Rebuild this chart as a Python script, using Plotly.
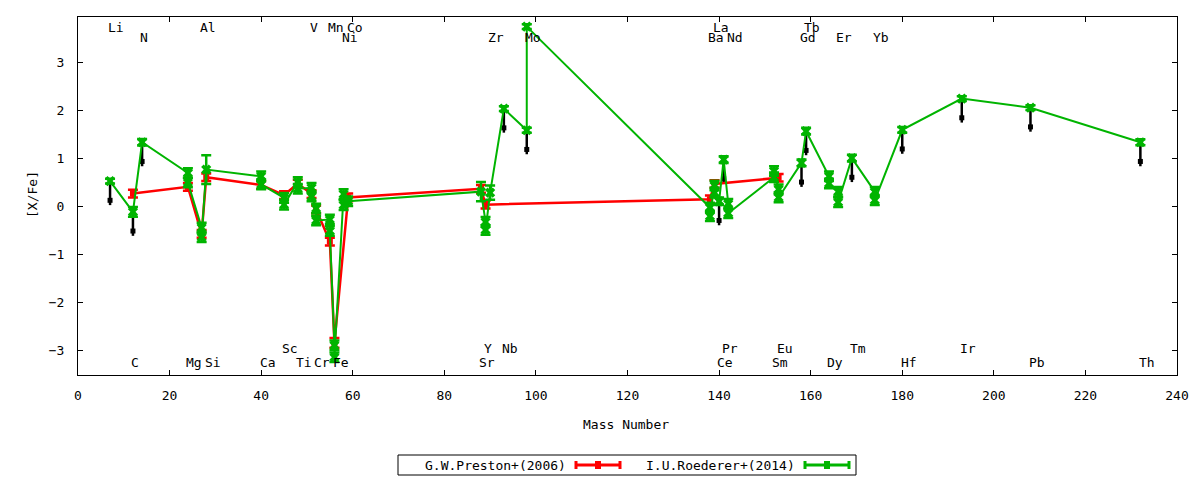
import plotly.graph_objects as go

# G.W.Preston+(2006)
preston_mass = [12, 24, 27, 28, 40, 45, 48, 51, 52, 55, 56, 59, 88, 89, 138, 139, 153]
preston_xfe = [0.26, 0.40, -0.58, 0.60, 0.44, 0.23, 0.47, 0.25, -0.07, -0.74, -2.85,
               0.18, 0.36, 0.03, 0.14, 0.46, 0.59]
preston_err = [0.08, 0.08, 0.08, 0.08, 0.08, 0.08, 0.08, 0.08, 0.08, 0.08, 0.10,
               0.08, 0.08, 0.08, 0.08, 0.08, 0.08]

# I.U.Roederer+(2014)
roederer_mass = [7, 12, 14, 24, 24, 27, 27, 28, 40, 40, 45, 45, 48, 48, 51, 51, 52, 52,
                 55, 55, 56, 56, 58, 58, 59, 88, 89, 89, 90, 93, 98, 98,
                 138, 138, 139, 139, 140, 141, 142, 142, 152, 152, 153, 153,
                 158, 159, 164, 164, 166, 166, 169, 174, 174, 180, 193, 208, 232]
roederer_xfe = [0.52, -0.12, 1.33, 0.69, 0.49, -0.45, -0.65, 0.76, 0.62, 0.45, 0.17, 0.03,
                0.50, 0.36, 0.38, 0.20, -0.05, -0.30, -0.28, -0.52, -2.90, -3.15,
                0.25, 0.02, 0.10, 0.30, -0.33, -0.50, 0.28, 2.03, 1.58, 3.74,
                -0.03, -0.21, 0.43, 0.28, 0.10, 0.97, 0.05, -0.15, 0.60, 0.73, 0.35, 0.18,
                0.90, 1.56, 0.62, 0.47, 0.30, 0.08, 1.00, 0.30, 0.12, 1.59, 2.24, 2.05, 1.33]
roederer_err = [0.05, 0.10, 0.07, 0.10, 0.10, 0.10, 0.10, 0.30, 0.10, 0.10, 0.10, 0.10,
                0.10, 0.10, 0.10, 0.10, 0.10, 0.10, 0.10, 0.10, 0.10, 0.10,
                0.10, 0.10, 0.10, 0.20, 0.10, 0.10, 0.15, 0.05, 0.05, 0.05,
                0.10, 0.10, 0.10, 0.10, 0.08, 0.07, 0.10, 0.10, 0.10, 0.10, 0.10, 0.10,
                0.07, 0.07, 0.10, 0.10, 0.10, 0.10, 0.07, 0.10, 0.10, 0.06, 0.05, 0.05, 0.06]

# upper-limit arrows
arrow_mass = [7, 12, 14, 93, 98, 140, 141, 158, 159, 169, 180, 193, 208, 232]
arrow_top = [0.52, -0.12, 1.33, 2.03, 1.58, 0.10, 0.97, 0.90, 1.56, 1.00, 1.59, 2.24, 2.05, 1.33]
arrow_len = 0.5

# element labels: name, mass, row (0,1 top; 2,3 bottom)
elem_name = ["Li", "Al", "V", "Mn", "Co", "La", "Tb",
             "N", "Ni", "Zr", "Mo", "Ba", "Nd", "Gd", "Er", "Yb",
             "Sc", "Y", "Nb", "Pr", "Eu", "Tm", "Ir",
             "C", "Mg", "Si", "Ca", "Ti", "Cr", "Fe", "Sr", "Ce", "Sm", "Dy", "Hf", "Pb", "Th"]
elem_mass = [7, 27, 51, 55, 59, 139, 159,
             14, 58, 90, 98, 138, 142, 158, 166, 174,
             45, 89, 93, 141, 153, 169, 193,
             12, 24, 28, 40, 48, 52, 56, 88, 140, 152, 164, 180, 208, 232]
elem_row = [0, 0, 0, 0, 0, 0, 0,
            1, 1, 1, 1, 1, 1, 1, 1, 1,
            2, 2, 2, 2, 2, 2, 2,
            3, 3, 3, 3, 3, 3, 3, 3, 3, 3, 3, 3, 3, 3]
row_y = [3.73, 3.52, -2.96, -3.26]

RED = "#ff0000"
GREEN = "#00b400"
FONT = "DejaVu Sans Mono"

fig = go.Figure()

ax, ay = [], []
for m, t in zip(arrow_mass, arrow_top):
    ax += [m, m, None]
    ay += [t, t - arrow_len, None]
fig.add_trace(go.Scatter(x=ax, y=ay, mode="lines", line=dict(color="black", width=2.5),
                         hoverinfo="skip", showlegend=False))
fig.add_trace(go.Scatter(x=arrow_mass, y=[t - arrow_len + 0.1 for t in arrow_top],
                         mode="markers", marker=dict(symbol="square", size=5, color="black"),
                         hoverinfo="skip", showlegend=False))

fig.add_trace(go.Scatter(
    x=preston_mass, y=preston_xfe, mode="lines+markers", name="G.W.Preston+(2006)",
    line=dict(color=RED, width=2.5),
    marker=dict(symbol="square", size=6, color=RED),
    error_y=dict(type="data", array=preston_err, color=RED, thickness=2.5, width=5),
    showlegend=False))

fig.add_trace(go.Scatter(
    x=roederer_mass, y=roederer_xfe, mode="lines+markers", name="I.U.Roederer+(2014)",
    line=dict(color=GREEN, width=2),
    marker=dict(symbol="x", size=9, color=GREEN, line=dict(width=0)),
    error_y=dict(type="data", array=roederer_err, color=GREEN, thickness=2.5, width=5),
    showlegend=False))

annotations = []
for n, m, r in zip(elem_name, elem_mass, elem_row):
    annotations.append(dict(x=m - 0.8, y=row_y[r], xref="x", yref="y", text=n,
                            showarrow=False, xanchor="left", yanchor="middle",
                            font=dict(family=FONT, size=13, color="black")))

# page is offset by the body margin (8px); plot area in window pixels: x 78..1177, y 17..375
def px(p):
    return (p - 78) / 1099.0

def py(p):
    return (375 - p) / 358.0

annotations.append(dict(x=px(626), y=py(425), xref="paper", yref="paper", text="Mass Number",
                        showarrow=False, xanchor="center", yanchor="middle",
                        font=dict(family=FONT, size=13, color="black")))
annotations.append(dict(x=px(32), y=py(195), xref="paper", yref="paper", text="[X/Fe]",
                        textangle=-90, showarrow=False, xanchor="center", yanchor="middle",
                        font=dict(family=FONT, size=13, color="black")))

shapes = [dict(type="rect", xref="paper", yref="paper", x0=px(398), x1=px(856),
               y0=py(455), y1=py(475), line=dict(color="black", width=1))]

legend_items = [("G.W.Preston+(2006)", RED, 568, 576, 620),
                ("I.U.Roederer+(2014)", GREEN, 797, 805, 849)]
for label, col, tx, s0, s1 in legend_items:
    annotations.append(dict(x=px(tx), y=py(465), xref="paper", yref="paper", text=label,
                            showarrow=False, xanchor="right", yanchor="middle",
                            font=dict(family=FONT, size=13, color="black")))
    shapes.append(dict(type="line", xref="paper", yref="paper", x0=px(s0), x1=px(s1),
                       y0=py(465), y1=py(465), line=dict(color=col, width=3)))
    for e in (s0, s1):
        shapes.append(dict(type="line", xref="paper", yref="paper", x0=px(e), x1=px(e),
                           y0=py(461), y1=py(469), line=dict(color=col, width=3)))
    c = (s0 + s1) / 2.0
    shapes.append(dict(type="rect", xref="paper", yref="paper", x0=px(c - 3), x1=px(c + 3),
                       y0=py(461), y1=py(469), line=dict(width=0), fillcolor=col))

axis_common = dict(showline=True, linecolor="black", linewidth=1, mirror="ticks",
                   ticks="inside", ticklen=5, tickcolor="black", showgrid=False,
                   zeroline=False, tickfont=dict(family=FONT, size=13, color="black"))

fig.update_layout(
    width=1192, height=472, autosize=False,
    margin=dict(l=70, r=23, t=9, b=105),
    paper_bgcolor="white", plot_bgcolor="white",
    xaxis=dict(range=[0, 240], dtick=20, tick0=0, ticklabelstandoff=8, **axis_common),
    yaxis=dict(range=[-3.52, 3.94], dtick=1, tick0=0, ticklabelstandoff=10,
               tickformat="d", **axis_common),
    annotations=annotations, shapes=shapes, showlegend=False,
)

fig.write_html("out.html")
